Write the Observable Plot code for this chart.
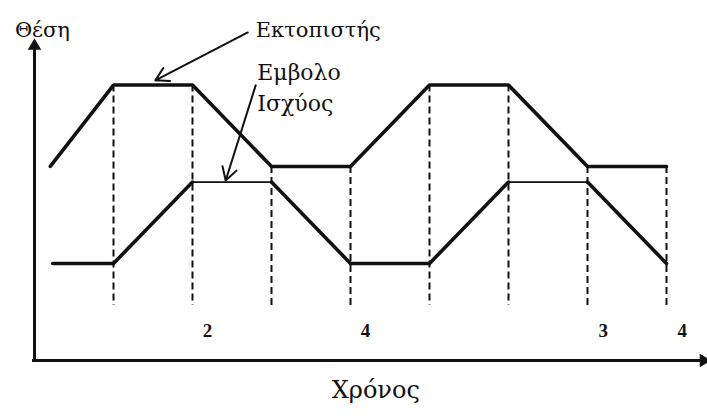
<!DOCTYPE html>
<html>
<head>
<meta charset="utf-8">
<script src="https://cdn.jsdelivr.net/npm/d3@7"></script>
<script src="https://cdn.jsdelivr.net/npm/@observablehq/plot@0.6"></script>
<style>
  body { margin: 0; background: #fff; }
  #chart svg { display: block; }
</style>
</head>
<body>
<div id="chart"></div>
<script>
// Stirling engine timing: displacer and power piston position over time
const displacerT   = [0.2, 1, 2, 3, 4, 5, 6, 7, 8];
const displacerPos = [6.2, 8.8, 8.8, 6.2, 6.2, 8.8, 8.8, 6.2, 6.2];
const pistonT      = [0.23, 1, 2, 3, 4, 5, 6, 7, 8];
const pistonPos    = [3.1, 3.1, 5.7, 5.7, 3.1, 3.1, 5.7, 5.7, 3.1];

// vertical phase markers and the stroke numbers written beneath them
const markerT     = [1, 2, 3, 4, 5, 6, 7, 8];
const markerFoot  = 1.76;
const strokeT     = [2.19, 4.19, 7.2, 8.2];
const strokeNames = ["2", "4", "3", "4"];

// axis titles and curve names
const yTitle = "Θέση";
const xTitle = "Χρόνος";
const displacerName = "Εκτοπιστής";
const pistonName = ["Εμβολο", "Ισχύος"];

const serif = "'DejaVu Serif', 'Liberation Serif', serif";
const digits = "'Liberation Serif', serif";

const displacer = displacerT.map((t, i) => ({t, v: displacerPos[i]}));
const piston = pistonT.map((t, i) => ({t, v: pistonPos[i]}));
const pistonTop = d3.max(pistonPos);
const pistonSegments = d3.pairs(piston).map(([a, b]) => ({
  t1: a.t, v1: a.v, t2: b.t, v2: b.v,
  thin: a.v === pistonTop && b.v === pistonTop
}));
const displacerAt = t => displacerPos[displacerT.indexOf(t)];
const pistonAt = t => pistonPos[pistonT.indexOf(t)];
const markers = markerT.map(t => ({t, top: displacerAt(t)}));
const strokes = strokeT.map((t, i) => ({t, label: strokeNames[i]}));

// name callouts: label anchor and the point on the curve the arrow touches
const callouts = [
  {t1: 2.70, v1: 10.48, t2: 1.53, v2: displacerAt(1) + 0.15},
  {t1: 2.80, v1: 8.79, t2: 2.42, v2: pistonAt(2) + 0.05}
];

const ink = "#111";

const chart = Plot.plot({
  width: 707,
  height: 417,
  marginTop: 0, marginRight: 0, marginBottom: 0, marginLeft: 0,
  x: {domain: [0, 8], range: [34, 666], axis: null},
  y: {domain: [0, 10], range: [360, 47], axis: null},
  style: {background: "#fff"},
  marks: [
    // dashed phase markers
    Plot.ruleX(markers, {
      x: "t", y1: "top", y2: markerFoot,
      stroke: ink, strokeWidth: 2, strokeDasharray: "7,4"
    }),
    // axes with arrowheads
    Plot.ruleX([0], {y1: 0, y2: 10.05, stroke: ink, strokeWidth: 3}),
    Plot.ruleY([0], {x1: -0.025, x2: 8.45, stroke: ink, strokeWidth: 3}),
    Plot.dot([{t: 0, v: 10.05}], {x: "t", y: "v", symbol: "triangle", r: 5, fill: ink, stroke: "none"}),
    Plot.dot([{t: 8.47, v: 0}], {x: "t", y: "v", symbol: "triangle", r: 5, rotate: 90, fill: ink, stroke: "none"}),
    // displacer curve
    Plot.line(displacer, {
      x: "t", y: "v", stroke: ink, strokeWidth: 3.6, strokeLinejoin: "miter"
    }),
    // power piston curve (thin stroke on the top dwell)
    Plot.link(pistonSegments, {
      x1: "t1", y1: "v1", x2: "t2", y2: "v2",
      stroke: ink, strokeWidth: d => d.thin ? 1.6 : 3.6, strokeLinecap: "round"
    }),
    // callout arrows
    Plot.arrow(callouts, {
      x1: "t1", y1: "v1", x2: "t2", y2: "v2",
      stroke: ink, strokeWidth: 2, headLength: 11, bend: 0
    }),
    // labels
    Plot.text([yTitle], {x: 0.1, y: 10.55, text: d => d, fontSize: 21, fontFamily: serif, fill: ink}),
    Plot.text([displacerName], {x: 2.80, y: 10.55, text: d => d, fontSize: 21, fontFamily: serif, textAnchor: "start", fill: ink}),
    Plot.text(pistonName, {
      x: 2.82, y: (d, i) => 9.2 - i * 1.0, text: d => d,
      fontSize: 22, fontFamily: serif, textAnchor: "start", fill: ink
    }),
    Plot.text(strokes, {
      x: "t", y: 0.96, text: "label", fontSize: 19, fontWeight: "bold", fontFamily: digits, fill: ink
    }),
    Plot.text([xTitle], {x: 4.32, y: -0.96, text: d => d, fontSize: 24, fontFamily: serif, fill: ink})
  ]
});

document.getElementById("chart").append(chart);
</script>
</body>
</html>
